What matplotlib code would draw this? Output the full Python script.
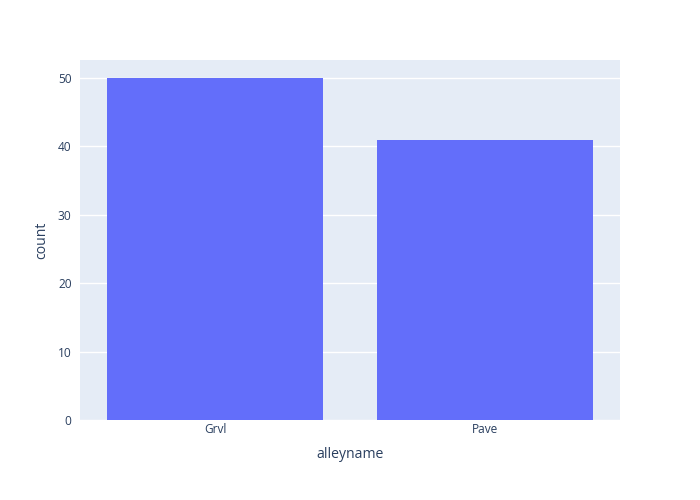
import matplotlib.pyplot as plt
import numpy as np

categories = ["Grvl", "Pave"]
counts = [50, 41]

plt.rcParams["font.family"] = ["Open Sans", "DejaVu Sans"]

fig = plt.figure(figsize=(7, 5), dpi=100)
ax = fig.add_axes([80 / 700, 80 / 500, 540 / 700, 360 / 500])
ax.set_facecolor("#e5ecf6")

x = np.arange(len(categories))
ax.bar(x, counts, width=0.8, color="#636efa", zorder=3)

ax.set_xlim(-0.5, 1.5)
ax.set_ylim(0, max(counts) * 1.0526)
ax.set_yticks(np.arange(0, 51, 10))
ax.set_xticks(x)
ax.set_xticklabels(categories)
ax.grid(axis="y", color="white", linewidth=1, zorder=0)
ax.set_axisbelow(True)
for s in ax.spines.values():
    s.set_visible(False)
ax.tick_params(length=0, labelsize=8.6, colors="#2a3f5f")
ax.tick_params(axis="y", pad=6)
ax.tick_params(axis="x", pad=2)
ax.set_xlabel("alleyname", fontsize=10.1, color="#2a3f5f", labelpad=8)
ax.set_ylabel("count", fontsize=10.1, color="#2a3f5f", labelpad=6)

fig.savefig("out.png", dpi=100, facecolor="white")
